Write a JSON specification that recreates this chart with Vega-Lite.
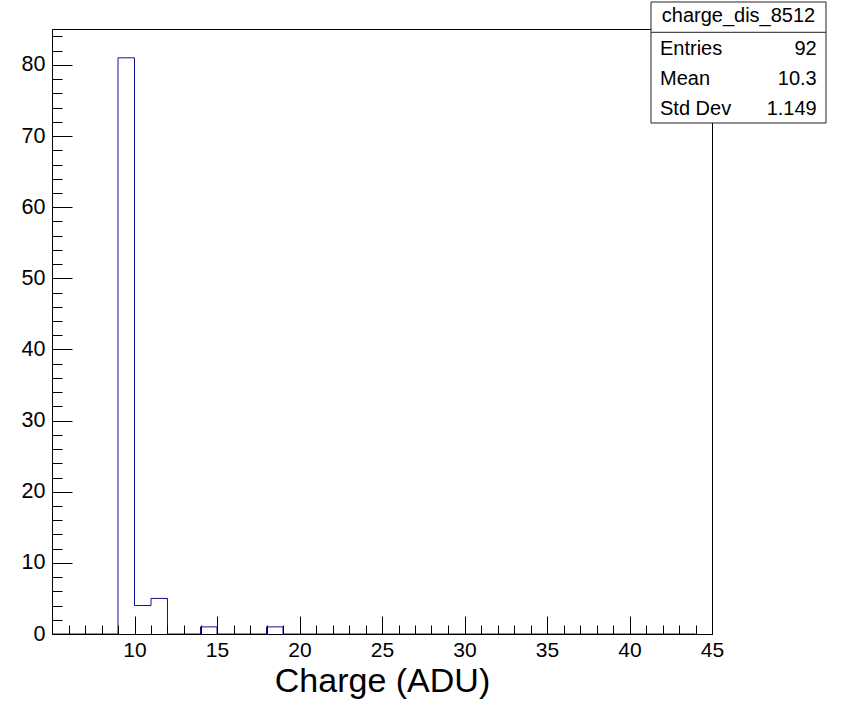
{
  "$schema": "https://vega.github.io/schema/vega-lite/v6.json",
  "width": 660,
  "height": 605,
  "autosize": {"type": "none"},
  "padding": {"left": 52, "top": 29, "right": 130, "bottom": 71},
  "background": "white",
  "config": {
    "view": {"stroke": "black", "strokeWidth": 1},
    "font": "Liberation Sans",
    "axis": {"grid": false, "domainColor": "black", "tickColor": "black", "labelColor": "black", "titleColor": "black", "labelFont": "Liberation Sans", "titleFont": "Liberation Sans"}
  },
  "datasets": {
    "hist": [
      {"lo": 5, "count": 0}, {"lo": 6, "count": 0}, {"lo": 7, "count": 0}, {"lo": 8, "count": 0},
      {"lo": 9, "count": 81}, {"lo": 10, "count": 4}, {"lo": 11, "count": 5}, {"lo": 12, "count": 0},
      {"lo": 13, "count": 0}, {"lo": 14, "count": 1}, {"lo": 15, "count": 0}, {"lo": 16, "count": 0},
      {"lo": 17, "count": 0}, {"lo": 18, "count": 1}, {"lo": 19, "count": 0}, {"lo": 20, "count": 0},
      {"lo": 21, "count": 0}, {"lo": 22, "count": 0}, {"lo": 23, "count": 0}, {"lo": 24, "count": 0},
      {"lo": 25, "count": 0}, {"lo": 26, "count": 0}, {"lo": 27, "count": 0}, {"lo": 28, "count": 0},
      {"lo": 29, "count": 0}, {"lo": 30, "count": 0}, {"lo": 31, "count": 0}, {"lo": 32, "count": 0},
      {"lo": 33, "count": 0}, {"lo": 34, "count": 0}, {"lo": 35, "count": 0}, {"lo": 36, "count": 0},
      {"lo": 37, "count": 0}, {"lo": 38, "count": 0}, {"lo": 39, "count": 0}, {"lo": 40, "count": 0},
      {"lo": 41, "count": 0}, {"lo": 42, "count": 0}, {"lo": 43, "count": 0}, {"lo": 44, "count": 0}
    ],
    "header": [{"name": "charge_dis_8512"}],
    "stats": [
      {"stat": "Entries", "value": "92"},
      {"stat": "Mean", "value": "10.3"},
      {"stat": "Std Dev", "value": "1.149"}
    ]
  },
  "layer": [
    {
      "data": {"name": "hist"},
      "mark": {"type": "line", "interpolate": "step-after", "color": "#1010a0", "strokeWidth": 1},
      "encoding": {
        "x": {"field": "lo", "type": "quantitative",
          "scale": {"domain": [5, 45], "nice": false, "zero": false},
          "axis": {"orient": "bottom", "values": [10, 15, 20, 25, 30, 35, 40, 45], "ticks": false, "tickSize": 0, "domain": true,
            "labelFontSize": 21, "labelPadding": 5, "labelFlush": false, "labelOverlap": false,
            "title": "Charge (ADU)", "titleFontSize": 34, "titleFontWeight": "normal",
            "titleBaseline": "alphabetic", "titleY": 57, "zindex": 1}},
        "y": {"field": "count", "type": "quantitative",
          "scale": {"domain": [0, 85.05], "nice": false, "zero": true},
          "axis": {"orient": "left", "values": [0, 10, 20, 30, 40, 50, 60, 70, 80], "ticks": false, "tickSize": 0, "domain": true,
            "labelFontSize": 21.5, "labelPadding": 7, "labelFlush": false, "labelOverlap": false,
            "title": null, "zindex": 1}}
      }
    },
    {
      "data": {"name": "header"},
      "mark": {"type": "rect", "fill": "white", "stroke": "#222222", "strokeWidth": 1},
      "encoding": {
        "x": {"datum": 41.303, "type": "quantitative",
          "axis": {"orient": "bottom", "values": [10, 15, 20, 25, 30, 35, 40, 45], "tickSize": -18, "labels": false, "domain": false, "title": null, "zindex": 1}},
        "x2": {"datum": 51.909},
        "y": {"datum": 88.846, "type": "quantitative",
          "axis": {"orient": "left", "values": [0, 10, 20, 30, 40, 50, 60, 70, 80], "tickSize": -20, "labels": false, "domain": false, "title": null, "zindex": 1}},
        "y2": {"datum": 71.836}
      }
    },
    {
      "data": {"name": "header"},
      "mark": {"type": "rule", "stroke": "#222222", "strokeWidth": 1},
      "encoding": {
        "x": {"datum": 41.303, "type": "quantitative",
          "axis": {"orient": "bottom", "values": [6, 7, 8, 9, 11, 12, 13, 14, 16, 17, 18, 19, 21, 22, 23, 24, 26, 27, 28, 29, 31, 32, 33, 34, 36, 37, 38, 39, 41, 42, 43, 44],
            "tickSize": -9, "labels": false, "domain": false, "title": null, "zindex": 1}},
        "x2": {"datum": 51.909},
        "y": {"datum": 84.586, "type": "quantitative",
          "axis": {"orient": "left", "values": [2, 4, 6, 8, 12, 14, 16, 18, 22, 24, 26, 28, 32, 34, 36, 38, 42, 44, 46, 48, 52, 54, 56, 58, 62, 64, 66, 68, 72, 74, 76, 78, 82, 84],
            "tickSize": -10, "labels": false, "domain": false, "title": null, "zindex": 1}}
      }
    },
    {
      "data": {"name": "header"},
      "mark": {"type": "text", "align": "center", "baseline": "alphabetic", "fontSize": 20, "color": "black"},
      "encoding": {
        "text": {"field": "name"},
        "x": {"datum": 46.606, "type": "quantitative", "axis": null},
        "y": {"datum": 86.034, "type": "quantitative", "axis": null}
      }
    },
    {
      "data": {"name": "stats"},
      "transform": [{"filter": "datum.stat === 'Entries'"}],
      "mark": {"type": "text", "align": "left", "baseline": "alphabetic", "fontSize": 20, "color": "black"},
      "encoding": {
        "text": {"field": "stat"},
        "x": {"datum": 41.848, "type": "quantitative", "axis": null},
        "y": {"datum": 81.395, "type": "quantitative", "axis": null}
      }
    },
    {
      "data": {"name": "stats"},
      "transform": [{"filter": "datum.stat === 'Entries'"}],
      "mark": {"type": "text", "align": "right", "baseline": "alphabetic", "fontSize": 20, "color": "black"},
      "encoding": {
        "text": {"field": "value"},
        "x": {"datum": 51.345, "type": "quantitative", "axis": null},
        "y": {"datum": 81.395, "type": "quantitative", "axis": null}
      }
    },
    {
      "data": {"name": "stats"},
      "transform": [{"filter": "datum.stat === 'Mean'"}],
      "mark": {"type": "text", "align": "left", "baseline": "alphabetic", "fontSize": 20, "color": "black"},
      "encoding": {
        "text": {"field": "stat"},
        "x": {"datum": 41.848, "type": "quantitative", "axis": null},
        "y": {"datum": 77.178, "type": "quantitative", "axis": null}
      }
    },
    {
      "data": {"name": "stats"},
      "transform": [{"filter": "datum.stat === 'Mean'"}],
      "mark": {"type": "text", "align": "right", "baseline": "alphabetic", "fontSize": 20, "color": "black"},
      "encoding": {
        "text": {"field": "value"},
        "x": {"datum": 51.345, "type": "quantitative", "axis": null},
        "y": {"datum": 77.178, "type": "quantitative", "axis": null}
      }
    },
    {
      "data": {"name": "stats"},
      "transform": [{"filter": "datum.stat === 'Std Dev'"}],
      "mark": {"type": "text", "align": "left", "baseline": "alphabetic", "fontSize": 20, "color": "black"},
      "encoding": {
        "text": {"field": "stat"},
        "x": {"datum": 41.848, "type": "quantitative", "axis": null},
        "y": {"datum": 72.96, "type": "quantitative", "axis": null}
      }
    },
    {
      "data": {"name": "stats"},
      "transform": [{"filter": "datum.stat === 'Std Dev'"}],
      "mark": {"type": "text", "align": "right", "baseline": "alphabetic", "fontSize": 20, "color": "black"},
      "encoding": {
        "text": {"field": "value"},
        "x": {"datum": 51.345, "type": "quantitative", "axis": null},
        "y": {"datum": 72.96, "type": "quantitative", "axis": null}
      }
    }
  ],
  "resolve": {"axis": {"x": "independent", "y": "independent"}}
}
